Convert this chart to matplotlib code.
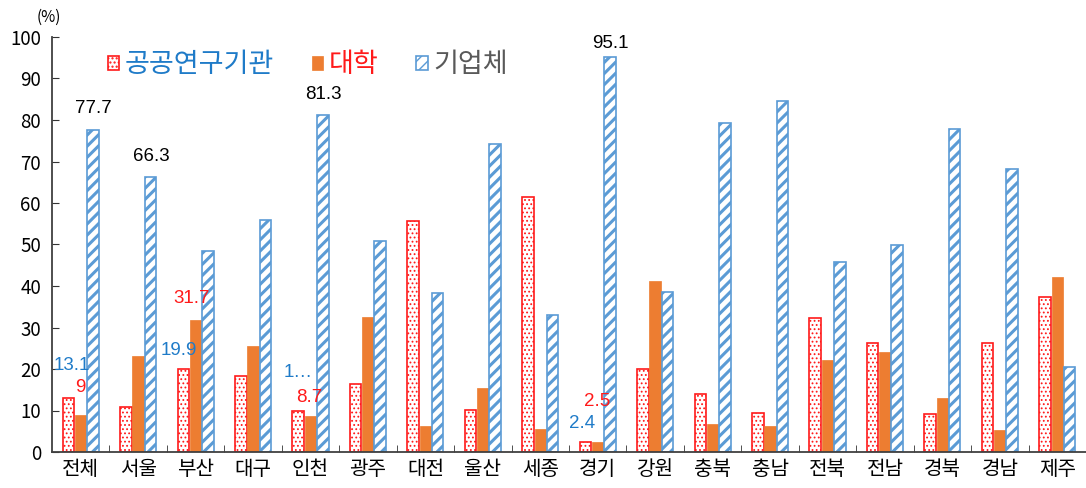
import numpy as np
import matplotlib
matplotlib.use('Agg')
import matplotlib.pyplot as plt

plt.rcParams['font.family'] = ['Noto Sans CJK KR', 'DejaVu Sans']

cats = ['전체', '서울', '부산', '대구', '인천', '광주', '대전', '울산', '세종',
        '경기', '강원', '충북', '충남', '전북', '전남', '경북', '경남', '제주']
public = [13.1, 10.8, 19.9, 18.4, 10.0, 16.4, 55.7, 10.1, 61.4,
          2.4, 20.1, 14.0, 9.5, 32.3, 26.3, 9.2, 26.3, 37.3]
univ = [9, 23.1, 31.7, 25.5, 8.7, 32.6, 6.3, 15.5, 5.5,
        2.5, 41.3, 6.7, 6.3, 22.1, 24.1, 12.9, 5.3, 42.2]
firm = [77.7, 66.3, 48.4, 56.0, 81.3, 50.8, 38.2, 74.2, 32.9,
        95.1, 38.6, 79.2, 84.5, 45.8, 49.8, 77.9, 68.3, 20.4]
series_names = ['공공연구기관', '대학', '기업체']

RED = '#ff1a1a'
ORANGE = '#ed7d31'
BLUE = '#5b9bd5'
LBLUE = '#1f7bc8'

fig = plt.figure(figsize=(10.86, 4.88), dpi=100)
ax = fig.add_axes([52 / 1086, 1 - 452 / 488, 1034 / 1086, 415 / 488])

x = np.arange(len(cats))
w = 0.2
step = 0.214

with plt.rc_context({'hatch.linewidth': 0.8}):
    b1 = ax.bar(x - step, public, w, color='white', edgecolor=RED,
                hatch='....', linewidth=1.2, label=series_names[0])
b2 = ax.bar(x, univ, w, color=ORANGE, edgecolor=ORANGE, linewidth=0.5,
            label=series_names[1])
with plt.rc_context({'hatch.linewidth': 2.2}):
    b3 = ax.bar(x + step, firm, w, color='white', edgecolor=BLUE,
                hatch='///', linewidth=1.2, label=series_names[2])

ax.set_xlim(-0.5, len(cats) - 0.5)
ax.set_ylim(0, 100)
ax.set_yticks(np.arange(0, 101, 10))
ax.set_xticks(x)
ax.set_xticklabels(cats, fontsize=14.5)
ax.set_xticks(np.arange(0.5, len(cats) - 0.5, 1), minor=True)
ax.tick_params(axis='x', which='major', length=0, pad=5)
ax.tick_params(axis='x', which='minor', direction='in', length=5, color='#333333')
ax.tick_params(axis='y', direction='in', length=5, labelsize=13.5, pad=8,
               color='#333333')
for s in ['top', 'right']:
    ax.spines[s].set_visible(False)
for s in ['left', 'bottom']:
    ax.spines[s].set_color('#404040')
    ax.spines[s].set_linewidth(1.3)

fig.text(37 / 1086, 1 - 17 / 488, '(%)', fontsize=11, ha='left', va='center')

# data labels: (series, index, text, colour, dx px, dy px)
series = [public, univ, firm]
offs = [-step, 0, step]
labels = [
    (0, 0, '13.1', LBLUE, 3, 32),
    (1, 0, '9', RED, 0, 27),
    (2, 0, '77.7', 'black', 0, 21),
    (2, 1, '66.3', 'black', 1, 20),
    (0, 2, '19.9', LBLUE, -5, 19),
    (1, 2, '31.7', RED, -4, 22),
    (0, 4, '1…', LBLUE, 0, 38),
    (1, 4, '8.7', RED, -1, 18),
    (2, 4, '81.3', 'black', 1, 20),
    (0, 9, '2.4', LBLUE, -3, 19),
    (1, 9, '2.5', RED, -1, 40),
    (2, 9, '95.1', 'black', 0, 14),
]
for si, i, txt, col, dx, dy in labels:
    ax.annotate(txt, (x[i] + offs[si], series[si][i]), xytext=(dx, dy),
                textcoords='offset pixels', ha='center', va='center',
                fontsize=13.5, color=col, annotation_clip=False,
                family=['Liberation Sans', 'DejaVu Sans'])

leg = ax.legend(handles=[b1, b2, b3], loc='center left', ncol=3,
                bbox_to_anchor=((108 - 52) / 1034, (452 - 65) / 415),
                frameon=False, fontsize=19.5, borderaxespad=0, borderpad=0,
                handlelength=0.42, handleheight=0.42, handletextpad=0.2,
                columnspacing=1.4)
for t, c in zip(leg.get_texts(), [LBLUE, RED, '#595959']):
    t.set_color(c)

fig.savefig('out.png', dpi=100)
